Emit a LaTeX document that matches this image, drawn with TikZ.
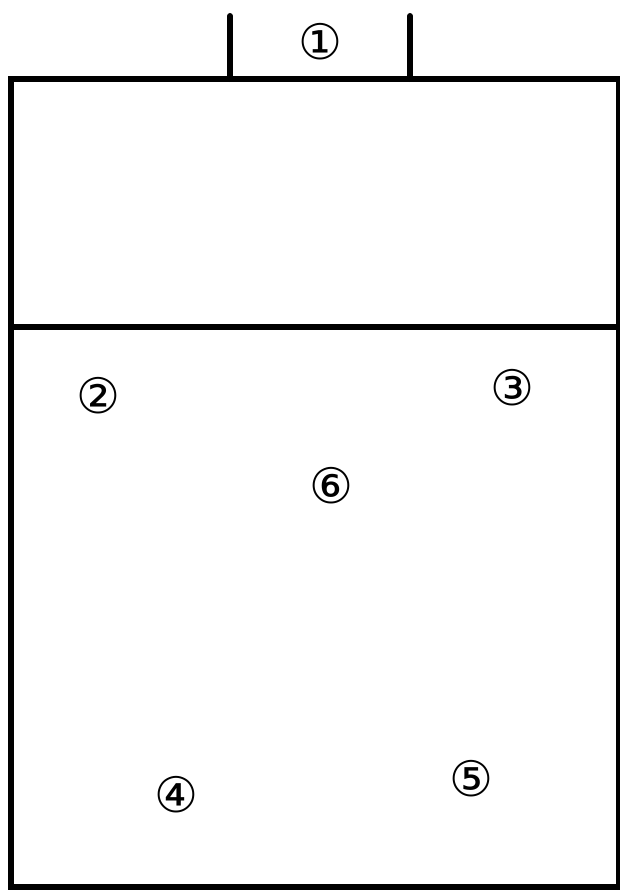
\documentclass[tikz,border=0pt]{standalone}
\usepackage{fontspec}
\newfontfamily\circfont{DejaVu Sans}
\begin{document}
\begin{tikzpicture}[x=1pt,y=-1pt,
  courtline/.style={line width=6.5pt, line cap=rect},
  postline/.style={line width=6pt, line cap=round},
  player/.style={font=\circfont\fontsize{49}{49}\selectfont, inner sep=0pt}]
\useasboundingbox (0,0) rectangle (619,891);
\coordinate (tl) at (11,79);
\coordinate (tr) at (619,79);
\coordinate (bl) at (11,887);
\coordinate (br) at (619,887);
\coordinate (ml) at (11,327);
\coordinate (mr) at (619,327);
\draw[courtline] (tr) -- (tl) -- (bl) -- (br);
\draw[courtline] (tr) -- (br);
\draw[courtline] (ml) -- (mr);
\coordinate (p1b) at (230,79);
\coordinate (p1t) at (230,16);
\coordinate (p2b) at (410,79);
\coordinate (p2t) at (410,16);
\draw[postline] (p1b) -- (p1t);
\draw[postline] (p2b) -- (p2t);
\node[player] (n1) at (320,42) {①};
\node[player] (n2) at (98,396) {②};
\node[player] (n3) at (512,388) {③};
\node[player] (n6) at (331,486) {⑥};
\node[player] (n4) at (176,795) {④};
\node[player] (n5) at (471,779) {⑤};
\end{tikzpicture}
\end{document}
